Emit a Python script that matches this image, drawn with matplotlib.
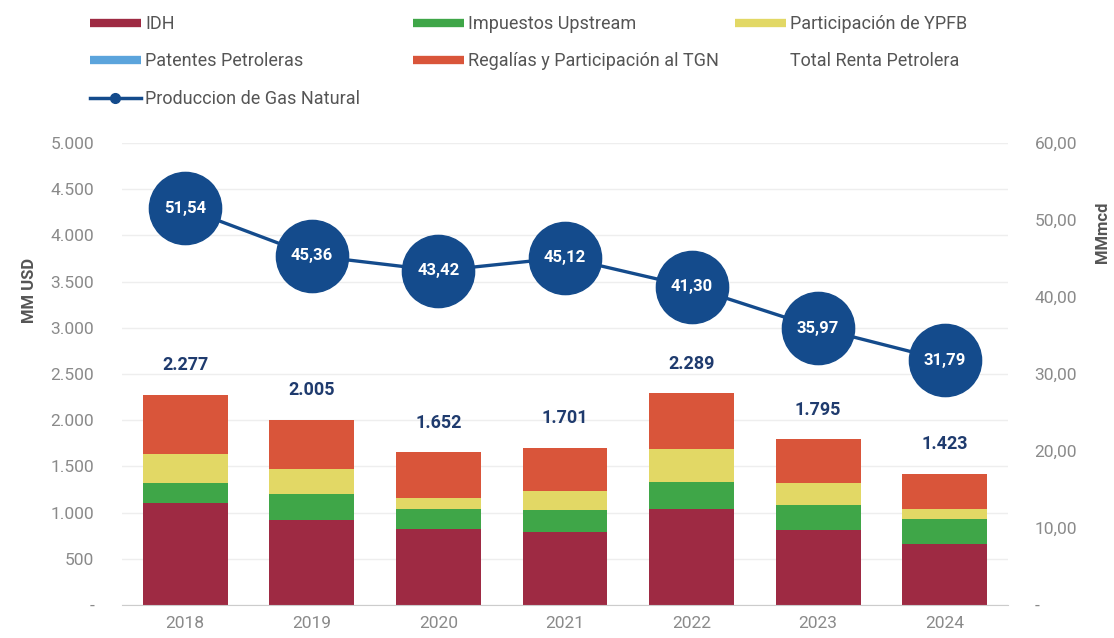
import matplotlib
matplotlib.use("Agg")
import matplotlib.pyplot as plt
from matplotlib.lines import Line2D
from matplotlib.ticker import FuncFormatter, MultipleLocator
import numpy as np

plt.rcParams['font.family'] = ['Roboto', 'DejaVu Sans']

years = ['2018', '2019', '2020', '2021', '2022', '2023', '2024']
idh = [1100, 920, 826, 786, 1039, 812, 660]
upstream = [224, 281, 217, 242, 296, 270, 267]
ypfb = [310, 267, 111, 209, 353, 235, 108]
patentes = [0, 0, 0, 0, 0, 0, 0]
regalias = [643, 537, 498, 464, 601, 478, 388]
total = [2277, 2005, 1652, 1701, 2289, 1795, 1423]
gas = [51.54, 45.36, 43.42, 45.12, 41.30, 35.97, 31.79]

c_idh = '#9e2a43'
c_up = '#3fa648'
c_ypfb = '#e2d865'
c_pat = '#5ba4dc'
c_reg = '#d9553a'
c_gas = '#144b8c'
c_tick = '#8a8a8a'
c_lab = '#555555'

fig = plt.figure(figsize=(11.14, 6.38), dpi=100)
ax = fig.add_axes([122/1114, 33/638, (1008-122)/1114, (605-143)/638])
x = np.arange(len(years))
w = 0.67
bottom = np.zeros(len(years))
for vals, col in [(idh, c_idh), (upstream, c_up), (ypfb, c_ypfb), (patentes, c_pat), (regalias, c_reg)]:
    ax.bar(x, vals, w, bottom=bottom, color=col, zorder=2, linewidth=0)
    bottom += np.array(vals)

for xi, t in zip(x, total):
    ax.text(xi, t + 320, f"{t:,}".replace(',', '.'), ha='center', va='center',
            fontsize=13, fontweight='bold', color='#1f3b6e', zorder=3)

ax.set_xlim(-0.5, 6.5)
ax.set_ylim(0, 5000)
ax.yaxis.set_major_locator(MultipleLocator(500))
ax.yaxis.set_major_formatter(FuncFormatter(lambda v, p: '-' if v == 0 else f"{int(v):,}".replace(',', '.')))
ax.set_xticks(x)
ax.set_xticklabels(years)
ax.tick_params(axis='both', length=0, colors=c_tick, labelsize=12.5)
ax.tick_params(axis='y', pad=20)
ax.tick_params(axis='x', pad=8)
ax.grid(axis='y', color='#eeeeee', lw=1, zorder=0)
for s in ['top', 'right', 'left']:
    ax.spines[s].set_visible(False)
ax.spines['bottom'].set_color('#cccccc')

ax2 = ax.twinx()
ax2.set_ylim(0, 60)
ax2.yaxis.set_major_locator(MultipleLocator(10))
ax2.yaxis.set_major_formatter(FuncFormatter(lambda v, p: '-' if v == 0 else f"{v:.2f}".replace('.', ',')))
ax2.tick_params(axis='y', length=0, colors=c_tick, labelsize=12.5, pad=19)
for s in ax2.spines.values():
    s.set_visible(False)
ax2.plot(x, gas, color=c_gas, lw=2.4, marker='o', markersize=52, zorder=4)
for xi, g in zip(x, gas):
    ax2.text(xi, g, f"{g:.2f}".replace('.', ','), ha='center', va='center',
             color='white', fontsize=12, fontweight='bold', zorder=5)

fig.text(30/1114, 1 - 290/638, 'MM USD', rotation=90, ha='center', va='center',
         fontsize=12, fontweight='bold', color=c_lab)
fig.text(1103/1114, 1 - 232/638, 'MMmcd', rotation=90, ha='center', va='center',
         fontsize=12, fontweight='bold', color=c_lab)

def bar_handle(c):
    return Line2D([], [], color=c, lw=6, solid_capstyle='butt')

cols = [
    ([bar_handle(c_idh), bar_handle(c_pat), Line2D([], [], color=c_gas, lw=2.5, marker='o', markersize=7)],
     ['IDH', 'Patentes Petroleras', 'Produccion de Gas Natural'], 90),
    ([bar_handle(c_up), bar_handle(c_reg)],
     ['Impuestos Upstream', 'Regalías y Participación al TGN'], 413),
    ([bar_handle(c_ypfb), Line2D([], [], color='none', lw=0)],
     ['Participación de YPFB', 'Total Renta Petrolera'], 735),
]
for hs, ls, xpx in cols:
    leg = fig.legend(hs, ls, loc='upper left', bbox_to_anchor=(xpx/1114, 1 - 15/638),
                     frameon=False, fontsize=13, handlelength=2.8, handletextpad=0.25,
                     labelspacing=1.08, borderaxespad=0, borderpad=0)
    for t in leg.get_texts():
        t.set_color(c_lab)

fig.savefig('out.png', dpi=100)
